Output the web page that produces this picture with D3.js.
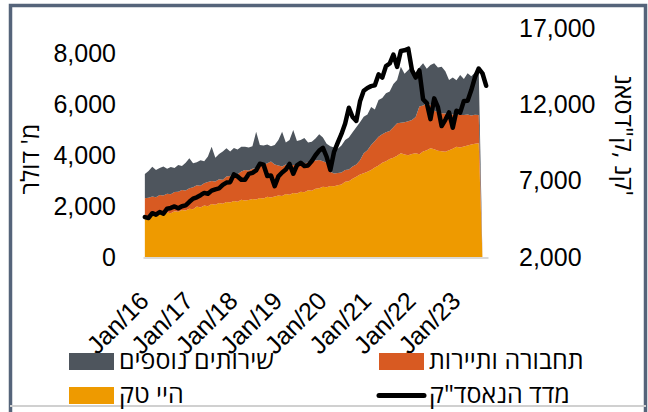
<!DOCTYPE html>
<html>
<head>
<meta charset="utf-8">
<script src="https://cdn.jsdelivr.net/npm/d3@7"></script>
<style>
  body { margin: 0; background: #fff; }
  svg { display: block; font-family: "Open Sans", "Liberation Sans", "DejaVu Sans", sans-serif; }
</style>
</head>
<body>
<div id="chart"></div>
<script>
// monthly, Jan/16 .. Sep/23
var months = d3.timeMonth.range(new Date(2016, 0, 1), new Date(2023, 9, 1));
var yearLabels = ["Jan/16", "Jan/17", "Jan/18", "Jan/19", "Jan/20", "Jan/21", "Jan/22", "Jan/23"];
var leftTicks = [0, 2000, 4000, 6000, 8000];
var rightTicks = [2000, 7000, 12000, 17000];

// high tech (bottom of stack), $M
var hiTech = [1560, 1600, 1640, 1620, 1700, 1680, 1750, 1720, 1800, 1780, 1850, 1830,
  1900, 1880, 1980, 1950, 2020, 1990, 2080, 2050, 2120, 2090, 2160, 2140,
  2200, 2170, 2250, 2220, 2240, 2280, 2260, 2320, 2300, 2370, 2340, 2380,
  2420, 2400, 2480, 2450, 2520, 2500, 2560, 2540, 2620, 2600, 2680, 2700,
  2760, 2740, 2790, 2780, 2820, 2850, 2960, 2980, 3080, 3150, 3240, 3290,
  3350, 3420, 3520, 3600, 3700, 3760, 3850, 3900, 3980, 4075, 4030, 4000,
  4050, 4080, 4040, 4150, 4200, 4270, 4230, 4180, 4160, 4140, 4200, 4250,
  4330, 4300, 4340, 4380, 4420, 4450, 4470, 0, 0];

// transport & tourism
var transport = [750, 730, 740, 730, 740, 740, 740, 750, 750, 780, 780, 780,
  800, 860, 840, 850, 880, 960, 910, 920, 940, 950, 1000, 1040,
  1090, 1080, 1110, 1200, 1160, 1190, 1240, 1240, 1315, 1310, 1410, 1260,
  1180, 1160, 1160, 1150, 1100, 1110, 1120, 1120, 1100, 1150, 1110, 1110,
  1000, 960, 560, 500, 480, 470, 460, 460, 480, 490, 560, 785,
  850, 980, 1040, 1130, 1120, 1140, 1100, 1200, 1275, 1205, 1270, 1340,
  1335, 1420, 1870, 1800, 1840, 1710, 1520, 1520, 1490, 1500, 1420, 1350,
  1290, 1280, 1240, 1220, 1140, 1140, 1110, 0, 0];

// other services
var other = [950, 1050, 1170, 1070, 1060, 1140, 980, 1070, 950, 1060, 950, 1090,
  1180, 940, 900, 1000, 860, 1000, 1340, 930, 990, 1110, 1110, 970,
  990, 970, 970, 910, 900, 880, 1420, 840, 765, 740, 600, 760,
  1000, 1360, 860, 1000, 1370, 950, 920, 1020, 780, 780, 870, 1010,
  940, 750, 1000, 1020, 950, 1060, 1180, 1260, 1340, 1460, 1500, 1440,
  1400, 1500, 1240, 1440, 1430, 1535, 1550, 1700, 1705, 2200, 1900, 2010,
  2115, 1720, 1540, 1660, 1360, 1570, 1860, 1750, 1830, 1660, 1340, 1450,
  1330, 1570, 1420, 1620, 1540, 1660, 1770, 0, 0];

// nasdaq composite, points
var nasdaq = [4614, 4558, 4870, 4775, 4948, 4843, 5162, 5213, 5312, 5189, 5324, 5383,
  5615, 5825, 5912, 6048, 6199, 6140, 6348, 6429, 6496, 6728, 6874, 6903,
  7411, 7273, 7063, 7066, 7442, 7510, 7672, 8110, 8046, 7306, 7331, 6635,
  7282, 7533, 7729, 8095, 7453, 8006, 8175, 7963, 7999, 8292, 8665, 8973,
  9151, 8567, 7700, 8890, 9490, 10059, 10745, 11775, 11168, 10912, 12199, 12888,
  13071, 13192, 13247, 13962, 13749, 14504, 14673, 15259, 14449, 15498, 15538, 15645,
  14240, 13751, 14221, 12335, 12081, 11029, 12391, 11816, 10576, 10988, 11468, 10466,
  11585, 11456, 12222, 12227, 12935, 13788, 14346, 14035, 13219];

var seriesNames = ["hiTech", "transport", "other"];
var colors = { hiTech: "#ee9a00", transport: "#d85a22", other: "#4e555d" };

var width = 648, height = 412;
var svg = d3.select("#chart").append("svg")
  .attr("width", width)
  .attr("height", height);

var rows = months.map(function (m, i) {
  return { date: m, hiTech: hiTech[i], transport: transport[i], other: other[i], nasdaq: nasdaq[i] };
});

var x = d3.scalePoint()
  .domain(months)
  .range([143, 488])
  .padding(0.5);

var yLeft = d3.scaleLinear().domain([0, 9000]).range([257, 28]);
var yRight = d3.scaleLinear().domain([2000, 17000]).range([257, 28]);

// frame
svg.append("path")
  .attr("d", "M10.5,412 V5.5 H645.5 V412")
  .attr("fill", "none")
  .attr("stroke", "#55647a")
  .attr("stroke-width", 3.5);
svg.append("line")
  .attr("x1", 10).attr("x2", 646)
  .attr("y1", 406).attr("y2", 406)
  .attr("stroke", "#d0d0d0")
  .attr("stroke-width", 2);

// stacked areas
var stack = d3.stack().keys(seriesNames);
var area = d3.area()
  .x(function (d) { return x(d.data.date); })
  .y0(function (d) { return yLeft(d[0]); })
  .y1(function (d) { return yLeft(d[1]); });

svg.append("g")
  .selectAll("path")
  .data(stack(rows))
  .enter()
  .append("path")
  .attr("fill", function (d) { return colors[d.key]; })
  .attr("d", area);

// category axis
var xAxis = d3.axisBottom(x)
  .tickValues(months.filter(function (m) { return m.getMonth() == 0; }))
  .tickFormat(function (d, i) { return yearLabels[i]; })
  .tickSize(0)
  .tickSizeOuter(0);

var gx = svg.append("g")
  .attr("transform", "translate(0,257.5)")
  .call(xAxis);
gx.select(".domain").attr("stroke", "#d9d9d9").attr("stroke-width", 2);
gx.selectAll("text")
  .attr("x", 0).attr("y", 0).attr("dy", 0)
  .attr("text-anchor", "end")
  .attr("transform", "translate(5,45) rotate(-45)")
  .attr("font-size", 25)
  .attr("font-family", null)
  .attr("fill", "#000");

// nasdaq line
var line = d3.line()
  .x(function (d) { return x(d.date); })
  .y(function (d) { return yRight(d.nasdaq); });

svg.append("path")
  .datum(rows)
  .attr("fill", "none")
  .attr("stroke", "#000")
  .attr("stroke-width", 4.5)
  .attr("stroke-linejoin", "round")
  .attr("stroke-linecap", "round")
  .attr("d", line);

// value axes
var gl = svg.append("g")
  .attr("transform", "translate(120,0)")
  .call(d3.axisLeft(yLeft).tickValues(leftTicks).tickFormat(d3.format(",")).tickSize(0).tickPadding(4));
var gr = svg.append("g")
  .attr("transform", "translate(515,0)")
  .call(d3.axisRight(yRight).tickValues(rightTicks).tickFormat(d3.format(",")).tickSize(0).tickPadding(4));
[gl, gr].forEach(function (g) {
  g.select(".domain").remove();
  g.selectAll("text")
    .attr("font-size", 25)
    .attr("font-family", null)
    .attr("fill", "#000");
});

// axis titles
svg.append("text")
  .attr("transform", "translate(30,159) rotate(-90)")
  .attr("text-anchor", "middle")
  .attr("dy", "0.35em")
  .attr("font-size", 25)
  .text("מ' דולר");

svg.append("text")
  .attr("transform", "translate(624,135) rotate(90)")
  .attr("text-anchor", "middle")
  .attr("dy", "0.35em")
  .attr("font-size", 25)
  .style("direction", "ltr")
  .style("unicode-bidi", "bidi-override")
  .text("נאסד\"ק, נק'");

// legend
var legend = [
  { label: "שירותים נוספים", key: "other", x: 69, y: 353 },
  { label: "תחבורה ותיירות", key: "transport", x: 379, y: 353 },
  { label: "היי טק", key: "hiTech", x: 69, y: 387 },
  { label: "מדד הנאסד\"ק", key: "nasdaq", x: 379, y: 387 }
];

var lg = svg.append("g")
  .selectAll("g")
  .data(legend)
  .enter()
  .append("g")
  .attr("transform", function (d) { return "translate(" + d.x + "," + d.y + ")"; });

lg.filter(function (d) { return d.key != "nasdaq"; })
  .append("rect")
  .attr("width", 45)
  .attr("height", 17)
  .attr("fill", function (d) { return colors[d.key]; });

lg.filter(function (d) { return d.key == "nasdaq"; })
  .append("line")
  .attr("x1", 0).attr("x2", 45)
  .attr("y1", 8.5).attr("y2", 8.5)
  .attr("stroke", "#000")
  .attr("stroke-width", 5)
  .attr("stroke-linecap", "round");

lg.append("text")
  .attr("x", 50)
  .attr("y", 16)
  .attr("font-size", 25)
  .text(function (d) { return d.label; });
</script>
</body>
</html>
